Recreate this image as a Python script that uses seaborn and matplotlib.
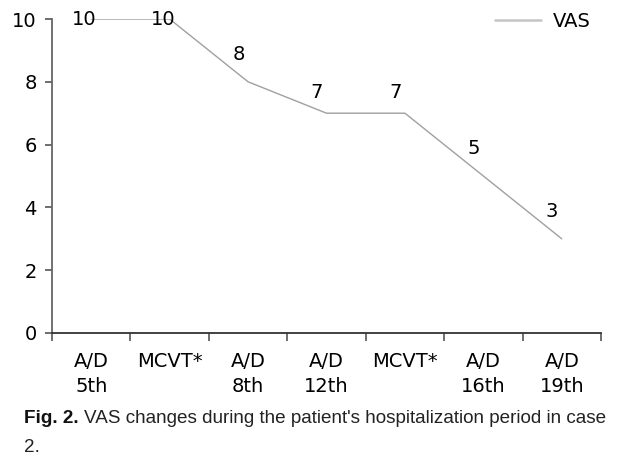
import matplotlib
matplotlib.use("Agg")
import matplotlib.pyplot as plt
import seaborn as sns
import pandas as pd

categories_top = ["A/D", "MCVT*", "A/D", "A/D", "MCVT*", "A/D", "A/D"]
categories_bottom = ["5th", "", "8th", "12th", "", "16th", "19th"]
vas_values = [10, 10, 8, 7, 7, 5, 3]
y_ticks = [0, 2, 4, 6, 8, 10]
series_name = "VAS"
caption_bold = "Fig. 2."
caption_line1 = "VAS changes during the patient's hospitalization period in case"
caption_line2 = "2."

sns.set_theme(style="white")
plt.rcParams['font.family'] = ['DejaVu Sans']
plt.rcParams['text.color'] = 'black'
CAP_FONT = ['Liberation Sans', 'DejaVu Sans']

W, H = 617, 473
df = pd.DataFrame({"pos": list(range(len(vas_values))), "VAS": vas_values})
tick_labels = [f"{a}\n{b}" for a, b in zip(categories_top, categories_bottom)]

fig = plt.figure(figsize=(W / 100, H / 100), dpi=100)
ax = fig.add_axes([52 / W, (H - 333) / H, (601 - 52) / W, (333 - 19) / H])

sns.lineplot(data=df, x="pos", y="VAS", ax=ax, color="#a0a0a0", linewidth=1.0, label=series_name)

ax.set_xlim(-0.5, len(vas_values) - 0.5)
ax.set_ylim(0, 10)
ax.set_yticks(y_ticks)
ax.set_yticklabels([str(t) for t in y_ticks], fontsize=14)
ax.set_xticks([i - 0.5 for i in range(len(vas_values) + 1)])
ax.set_xticklabels([])
ax.set_xticks(list(range(len(vas_values))), minor=True)
ax.set_xticklabels(tick_labels, minor=True, fontsize=14, linespacing=1.45)
ax.tick_params(axis="x", which="major", direction="out", length=6, width=1.2, color="#555555", bottom=True)
ax.tick_params(axis="x", which="minor", length=0, pad=13.5, bottom=True, labelcolor="black")
ax.tick_params(axis="y", direction="out", length=5, width=1.2, color="#555555", left=True, pad=6,
               labelcolor="black")
ax.set_xlabel("")
ax.set_ylabel("")

for s in ["top", "right"]:
    ax.spines[s].set_visible(False)
ax.spines["left"].set_color("#666666")
ax.spines["left"].set_linewidth(1.3)
ax.spines["bottom"].set_color("#333333")
ax.spines["bottom"].set_linewidth(1.3)

# value labels
for i, v in enumerate(vas_values):
    if v >= 10:
        dx, dy = -5, 0
    elif v == 7:
        dx, dy = -7, 15
    else:
        dx, dy = -7, 20
    ax.annotate(str(v), (i, v), xytext=(dx, dy), textcoords="offset points",
                ha="center", va="center", fontsize=14, color="black")

leg = ax.legend(loc="center right", frameon=False, fontsize=14, handlelength=2.35,
                handletextpad=0.62, borderpad=0, borderaxespad=0,
                bbox_to_anchor=((591 - 52) / 549, 1 - 2 / 314))
for line in leg.get_lines():
    line.set_linewidth(1.8)
    line.set_color("#c4c4c4")
for t in leg.get_texts():
    t.set_color("black")

# caption
cap_y1 = 1 - 418 / H
cap_y2 = 1 - 447 / H
fs = 14
t_bold = fig.text(24 / W, cap_y1, caption_bold, fontsize=fs, fontweight="bold",
                  family=CAP_FONT, va="center", ha="left", color="#111111")
t_rest = fig.text(0, cap_y1, caption_line1, fontsize=fs, family=CAP_FONT,
                  va="center", ha="left", color="#222222")
fig.canvas.draw()
r = fig.canvas.get_renderer()
target_w = 606 - 24
for _ in range(3):
    wb = t_bold.get_window_extent(r).width
    wr = t_rest.get_window_extent(r).width
    total = wb + 5 + wr
    fs = fs * target_w / total
    t_bold.set_fontsize(fs)
    t_rest.set_fontsize(fs)
    fig.canvas.draw()
wb = t_bold.get_window_extent(r).width
t_rest.set_x((24 + wb + 5) / W)
fig.text(24 / W, cap_y2, caption_line2, fontsize=fs, family=CAP_FONT,
         va="center", ha="left", color="#222222")

fig.savefig("out.png", dpi=100)
